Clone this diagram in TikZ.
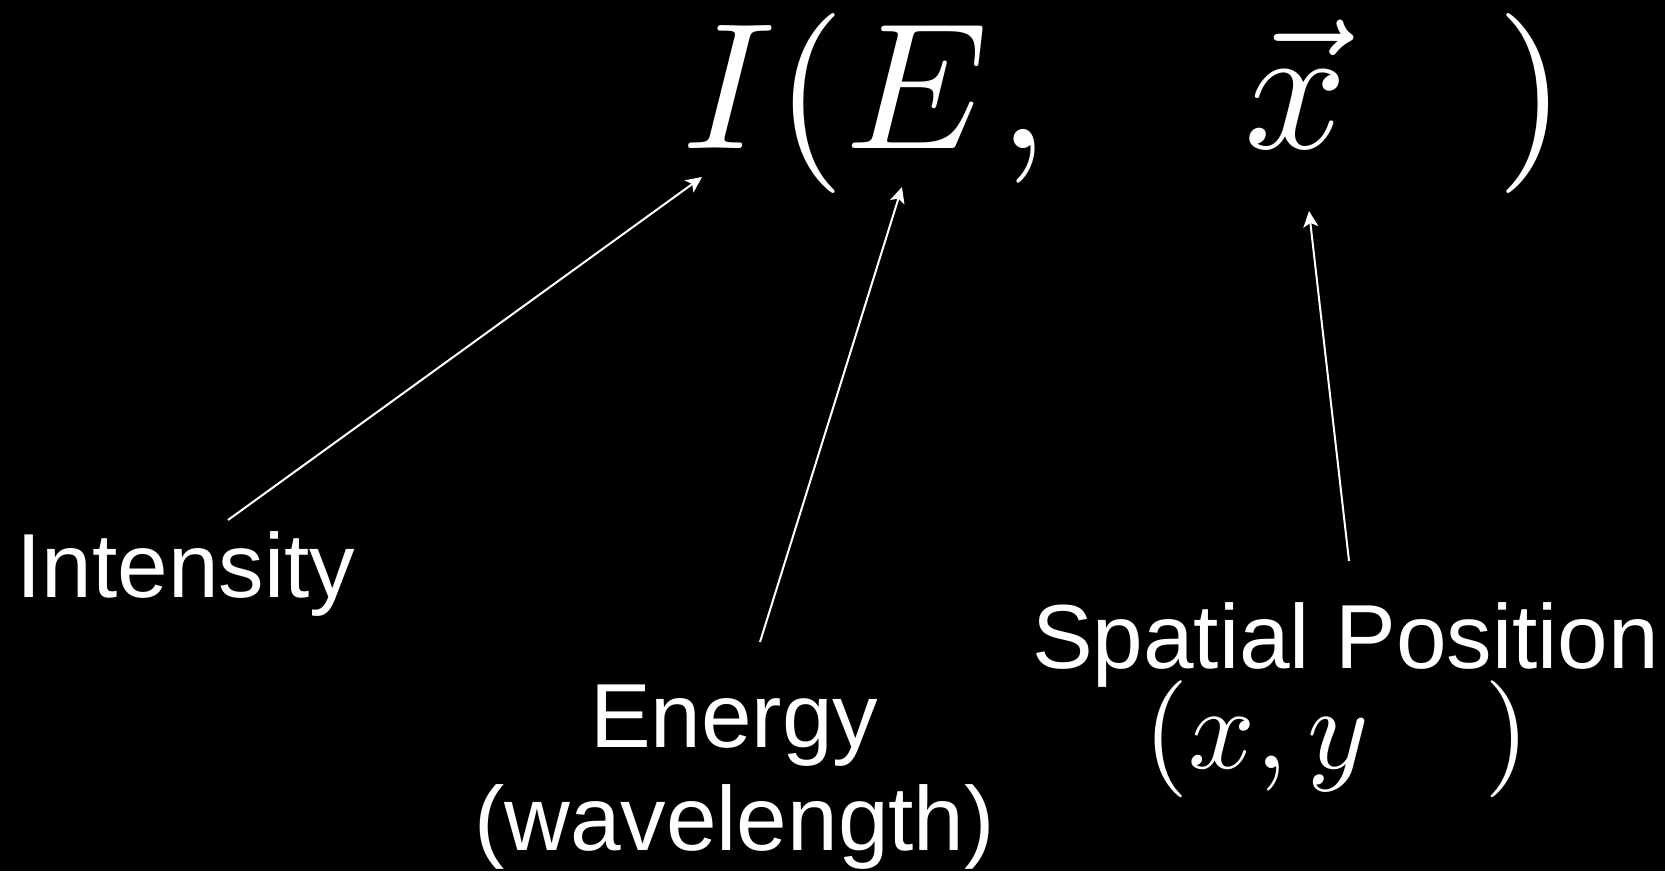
\documentclass[tikz,border=0pt]{standalone}
\usepackage[no-math]{fontspec}
\setmainfont{Liberation Sans}
\DeclareFontShape{OML}{cmm}{m}{it}{<->cmmi10}{}
\DeclareFontShape{OT1}{cmr}{m}{n}{<->cmr10}{}
\DeclareFontShape{OMS}{cmsy}{m}{n}{<->cmsy10}{}
\DeclareFontShape{OMX}{cmex}{m}{n}{<->cmex10}{}
\usetikzlibrary{arrows.meta}
\tikzset{
  big/.style={text=white, inner sep=0pt, outer sep=0pt, anchor=base west, font=\fontsize{180}{180}\selectfont},
  small/.style={text=white, inner sep=0pt, outer sep=0pt, anchor=base west, font=\fontsize{117}{117}\selectfont},
  lbl/.style={text=white, inner sep=0pt, outer sep=0pt, anchor=base west, font=\fontsize{91}{100}\selectfont},
  ptr/.style={draw=white, line width=2pt, -{Stealth[length=16pt,width=15pt,inset=4pt]}},
}
\begin{document}
\begin{tikzpicture}[x=1pt,y=-1pt]
\fill[black] (0,0) rectangle (1665,871);
\useasboundingbox (0,0) rectangle (1665,871);
% big formula
\node[big] (func) at (682,148) {$I(E\hspace{10pt},\hspace{166pt}\vec{x}\hspace{149pt})$};
% labels
\node[lbl] (int) at (16.5,597) {Intensity};
\node[lbl] (en1) at (590,747) {Energy};
\node[lbl] (en2) at (474,850) {(wavelength)};
\node[lbl] (sp) at (1032,668) {Spatial Position};
% small formula
\node[small] (xy) at (1143,768) {$(x,y\hspace{116pt})$};
% arrows
\coordinate (a1s) at (228,520);
\coordinate (a1e) at (702,177);
\coordinate (a2s) at (760,642);
\coordinate (a2e) at (902,187);
\coordinate (a3s) at (1349,561);
\coordinate (a3e) at (1309,211);
\draw[ptr] (a1s) -- (a1e);
\draw[ptr] (a2s) -- (a2e);
\draw[ptr] (a3s) -- (a3e);
\end{tikzpicture}
\end{document}
